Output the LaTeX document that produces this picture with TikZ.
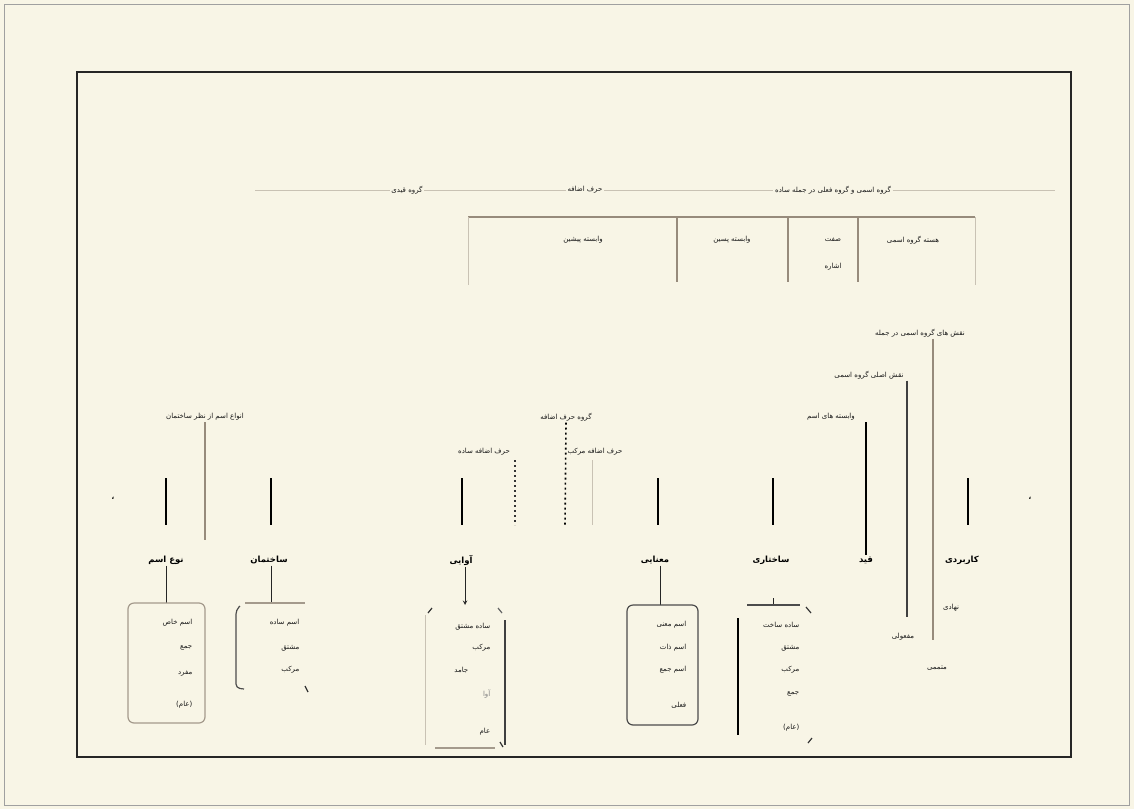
\documentclass[tikz,border=0pt]{standalone}
\usepackage{fontspec}
\newfontfamily\arabicfont[Script=Arabic]{DejaVu Sans}
\TeXXeTstate=1
\newcommand{\fatx}[1]{\beginR #1\endR}
\definecolor{bg}{HTML}{F8F5E6}
\definecolor{linegray}{HTML}{978B7C}
\definecolor{lightgray}{HTML}{C9C2B4}
\definecolor{boxgray}{HTML}{A49A8C}
\definecolor{framegray}{HTML}{A0A0A0}
\tikzset{
  lbl/.style={font=\arabicfont\fontsize{7}{8.5}\selectfont, text=black!90, inner sep=1.5pt},
  flbl/.style={lbl, fill=bg},
  blbl/.style={font=\arabicfont\bfseries\fontsize{8.5}{10}\selectfont, inner sep=1.5pt},
  blk/.style={line width=1.8pt, draw=black},
  gry/.style={line width=1.5pt, draw=linegray},
  dark/.style={line width=1.5pt, draw=black!75},
  faint/.style={line width=0.8pt, draw=lightgray},
  dotl/.style={line width=1.6pt, draw=black, dash pattern=on 2pt off 3pt},
  conn/.style={line width=1pt, draw=black!85},
  boxl/.style={line width=1.2pt, draw=boxgray, rounded corners=6pt},
}
\begin{document}
\begin{tikzpicture}[x=1pt,y=-1pt]
\fill[bg] (0,0) rectangle (1134,809);
\useasboundingbox (0,0) rectangle (1134,809);
\draw[framegray, line width=0.8pt] (4,4) rectangle (1129,805);
\draw[line width=2pt, black!85] (77,72) rectangle (1071,757);

% top line with three labels
\coordinate (tl) at (255,190);
\coordinate (tr) at (1055,190);
\node[flbl] (t1) at (407,190) {\fatx{گروه قیدی}};
\node[flbl] (t2) at (585,190) {\fatx{حرف اضافه}};
\node[flbl] (t3) at (833,190) {\fatx{گروه اسمی و گروه فعلی در جمله ساده}};
\draw[faint] (tl) -- (t1) -- (t2) -- (t3) -- (tr);

% second level bar
\coordinate (h1) at (468,217);
\coordinate (h2) at (975,217);
\draw[gry] (h1) -- (h2);
\coordinate (h1b) at (468,285);
\coordinate (h2b) at (975,285);
\draw[faint] (h1) -- (h1b);
\draw[faint] (h2) -- (h2b);
\coordinate (va) at (677,217); \coordinate (vab) at (677,282);
\coordinate (vb) at (788,217); \coordinate (vbb) at (788,282);
\coordinate (vc) at (858,217); \coordinate (vcb) at (858,282);
\draw[gry] (va) -- (vab);
\draw[gry] (vb) -- (vbb);
\draw[gry] (vc) -- (vcb);
\node[lbl] (r1) at (583,240) {\fatx{وابسته پیشین}};
\node[lbl] (r2) at (732,240) {\fatx{وابسته پسین}};
\node[lbl] (r3) at (833,240) {\fatx{صفت}};
\node[lbl] (r3b) at (833,267) {\fatx{اشاره}};
\node[lbl] (r4) at (913,240) {\fatx{هسته گروه اسمی}};

% right side labels and long lines
\node[flbl] (n1) at (920,333) {\fatx{نقش های گروه اسمی در جمله}};
\coordinate (g1) at (933,640);
\draw[gry] (n1.south -| g1) -- (g1);
\node[flbl] (n2) at (869,375) {\fatx{نقش اصلی گروه اسمی}};
\coordinate (g2) at (907,617);
\draw[dark] (n2.south -| g2) -- (g2);
\node[flbl] (n3) at (831,417) {\fatx{وابسته های اسم}};
\node[blbl] (q) at (866,560) {\fatx{قید}};
\draw[blk] (n3.south -| q) -- (q.north);

% left label
\node[flbl] (n4) at (205,417) {\fatx{انواع اسم از نظر ساختمان}};
\coordinate (g4) at (205,540);
\draw[gry] (n4.south) -- (g4);

% middle dotted group
\node[flbl] (n5) at (566,417) {\fatx{گروه حرف اضافه}};
\coordinate (d5) at (565,525);
\draw[dotl] (n5.south) -- (d5);
\node[lbl] (n6) at (484,452) {\fatx{حرف اضافه ساده}};
\node[lbl] (n7) at (595,452) {\fatx{حرف اضافه مرکب}};
\coordinate (d6t) at (515,460); \coordinate (d6b) at (515,525);
\draw[dotl, line width=1.2pt, draw=black!80] (d6t) -- (d6b);
\coordinate (f7t) at (592,460); \coordinate (f7b) at (592,525);
\draw[faint] (f7t) -- (f7b);

% bottom black verticals
\foreach \x/\n in {166/a,271/b,462/c,658/d,773/e,968/f}{
  \coordinate (bt\n) at (\x,478);
  \coordinate (bb\n) at (\x,525);
  \draw[blk] (bt\n) -- (bb\n);
}
\node[font=\arabicfont\bfseries\fontsize{7}{8}\selectfont, inner sep=0pt] (m1) at (113,498) {،};
\node[font=\arabicfont\bfseries\fontsize{7}{8}\selectfont, inner sep=0pt] (m2) at (1030,498) {،};

% bottom labels
\node[blbl] (L1) at (166,560) {\fatx{نوع اسم}};
\node[blbl] (L2) at (269,560) {\fatx{ساختمان}};
\node[blbl] (L3) at (461,560) {\fatx{آوایی}};
\node[blbl] (L4) at (655,560) {\fatx{معنایی}};
\node[blbl] (L5) at (771,560) {\fatx{ساختاری}};
\node[blbl] (L7) at (962,560) {\fatx{کاربردی}};

% box 1
\coordinate (k1) at (166,603);
\draw[conn] (L1.south -| k1) -- (k1);
\draw[boxl] (128,603) rectangle (205,723);
\node[lbl, anchor=east] (b11) at (194,623) {\fatx{اسم خاص}};
\node[lbl, anchor=east] (b12) at (194,648) {\fatx{جمع}};
\node[lbl, anchor=east] (b13) at (194,673) {\fatx{مفرد}};
\node[lbl, anchor=east] (b14) at (194,705) {\fatx{(عام)}};

% box 2
\coordinate (k2) at (271,603);
\draw[conn] (L2.south -| k2) -- (k2);
\draw[line width=1.2pt, draw=boxgray] (245,603) -- (305,603);
\draw[line width=1.2pt, draw=black!70, rounded corners=4pt] (240,606) -- (236,610) -- (236,688) -- (244,689);
\draw[line width=1.2pt, draw=black!80] (305,686) -- (308,692);
\node[lbl, anchor=east] (b21) at (301,623) {\fatx{اسم ساده}};
\node[lbl, anchor=east] (b22) at (301,648) {\fatx{مشتق}};
\node[lbl, anchor=east] (b23) at (301,670) {\fatx{مرکب}};

% box 3
\coordinate (k3) at (465,605);
\draw[conn, -stealth] (L3.south -| k3) -- (k3);
\draw[line width=1pt, draw=lightgray] (425,615) -- (425,745);
\draw[line width=1.4pt, draw=black!75] (505,620) -- (505,745);
\draw[line width=1.2pt, draw=boxgray] (435,748) -- (495,748);
\draw[line width=1.2pt, draw=black!80] (428,613) -- (432,608);
\draw[line width=1.2pt, draw=black!60] (498,608) -- (502,613);
\draw[line width=1.2pt, draw=black!80] (500,742) -- (503,747);
\node[lbl, anchor=east] (b31) at (492,627) {\fatx{ساده مشتق}};
\node[lbl, anchor=east] (b32) at (492,648) {\fatx{مرکب}};
\node[lbl, anchor=east] (b33) at (470,670) {\fatx{جامد}};
\node[lbl, anchor=east, text=black!50] (b34) at (492,694) {\fatx{آوا}};
\node[lbl, anchor=east] (b35) at (492,732) {\fatx{عام}};

% box 4
\coordinate (k4) at (660,605);
\draw[conn] (L4.south -| k4) -- (k4);
\draw[boxl, draw=black!70] (627,605) rectangle (698,725);
\node[lbl, anchor=east] (b41) at (688,625) {\fatx{اسم معنی}};
\node[lbl, anchor=east] (b42) at (688,648) {\fatx{اسم ذات}};
\node[lbl, anchor=east] (b43) at (688,670) {\fatx{اسم جمع}};
\node[lbl, anchor=east] (b44) at (688,705) {\fatx{فعلی}};

% box 5
\coordinate (k5) at (773,605);
\coordinate (k5t) at (773,598);
\draw[conn] (k5t) -- (k5);
\draw[line width=1.2pt, draw=black!70] (747,605) -- (800,605);
\draw[line width=1.2pt, draw=black!80] (806,607) -- (811,613);
\draw[line width=1.8pt, draw=black] (738,618) -- (738,735);
\draw[line width=1.2pt, draw=black!80] (808,743) -- (812,738);
\node[lbl, anchor=east] (b51) at (801,625) {\fatx{ساده ساخت}};
\node[lbl, anchor=east] (b52) at (801,648) {\fatx{مشتق}};
\node[lbl, anchor=east] (b53) at (801,670) {\fatx{مرکب}};
\node[lbl, anchor=east] (b54) at (801,694) {\fatx{جمع}};
\node[lbl, anchor=east] (b55) at (801,728) {\fatx{(عام)}};

% right bottom texts
\node[lbl] (p1) at (951,608) {\fatx{نهادی}};
\node[lbl] (p2) at (903,637) {\fatx{مفعولی}};
\node[lbl] (p3) at (937,668) {\fatx{متممی}};
\end{tikzpicture}
\end{document}
